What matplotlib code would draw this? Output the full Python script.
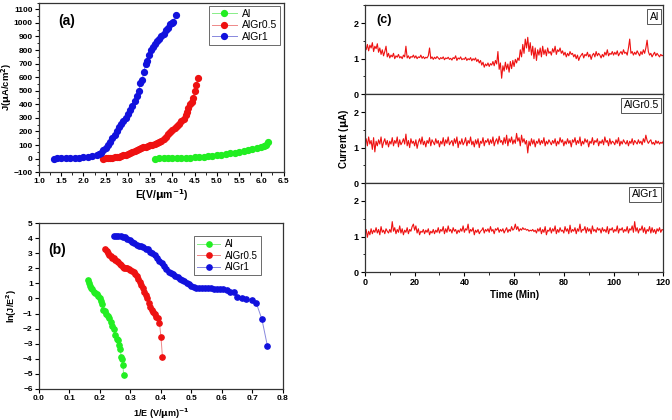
import matplotlib
matplotlib.use("Agg")
import matplotlib.pyplot as plt
import numpy as np
from matplotlib.ticker import MultipleLocator, AutoMinorLocator

plt.rcParams['font.family'] = ['Liberation Sans', 'DejaVu Sans']

# ---------------- Panel (a): J-E ----------------
a_al_E = [3.60, 3.70, 3.80, 3.90, 4.00, 4.10, 4.20, 4.30, 4.40, 4.50, 4.60, 4.70, 4.80, 4.90, 5.00,
          5.10, 5.20, 5.30, 5.40, 5.50, 5.60, 5.70, 5.80, 5.90, 6.00, 6.05, 6.10, 6.15]
a_al_J = [0, 1, 1, 2, 3, 4, 5, 6, 8, 10, 12, 15, 18, 21, 25,
          30, 35, 40, 44, 48, 55, 62, 70, 76, 85, 92, 100, 125]

a_gr05_E = [2.45, 2.50, 2.55, 2.60, 2.65, 2.70, 2.75, 2.80, 2.85, 2.90, 2.95, 3.00, 3.05, 3.10, 3.15,
            3.20, 3.25, 3.30, 3.35, 3.40, 3.45, 3.50, 3.55, 3.60, 3.65, 3.70, 3.75, 3.80, 3.85, 3.90,
            3.95, 4.00, 4.05, 4.10, 4.15, 4.20, 4.25, 4.30, 4.33, 4.36, 4.40, 4.43, 4.46, 4.50, 4.53, 4.57]
a_gr05_J = [0, 2, 3, 5, 7, 9, 12, 15, 19, 24, 29, 35, 42, 50, 56,
            62, 70, 76, 82, 88, 94, 98, 102, 108, 115, 122, 132, 145, 162, 180,
            195, 210, 222, 238, 255, 275, 295, 320, 345, 370, 400, 420, 450, 500, 540, 592]

a_gr1_E = [1.33, 1.40, 1.50, 1.60, 1.70, 1.80, 1.90, 2.00, 2.10, 2.20, 2.30, 2.35, 2.40, 2.45, 2.50,
           2.55, 2.60, 2.65, 2.70, 2.75, 2.80, 2.85, 2.90, 2.95, 3.00, 3.05, 3.10, 3.15, 3.20, 3.25,
           3.28, 3.32, 3.36, 3.40, 3.44, 3.48, 3.52, 3.56, 3.60, 3.65, 3.70, 3.75, 3.80, 3.85, 3.90,
           3.95, 3.98, 4.02, 4.07]
a_gr1_J = [0, 1, 2, 3, 4, 6, 8, 10, 14, 20, 28, 35, 45, 60, 80,
           100, 125, 150, 175, 200, 230, 255, 280, 300, 330, 360, 390, 425, 460, 500,
           560, 580, 640, 700, 720, 760, 800, 820, 845, 865, 880, 900, 920, 945, 965,
           990, 1000, 1010, 1060]

# ---------------- Panel (b): F-N ----------------
b_al_x = [0.160, 0.163, 0.167, 0.170, 0.175, 0.180, 0.185, 0.190, 0.195, 0.200, 0.203, 0.207, 0.210,
          0.215, 0.220, 0.225, 0.230, 0.235, 0.240, 0.245, 0.250, 0.255, 0.260, 0.263, 0.266, 0.270,
          0.273, 0.275, 0.278]
b_al_y = [1.20, 1.00, 0.85, 0.70, 0.60, 0.45, 0.35, 0.30, 0.15, 0.00, -0.20, -0.35, -0.75,
          -0.85, -1.00, -1.15, -1.30, -1.55, -1.80, -2.00, -2.40, -2.70, -2.75, -3.10, -3.35, -3.90,
          -4.00, -4.40, -5.10]

b_gr05_x = [0.218, 0.222, 0.226, 0.230, 0.235, 0.240, 0.245, 0.250, 0.255, 0.260, 0.265, 0.270,
            0.275, 0.280, 0.285, 0.290, 0.295, 0.300, 0.305, 0.310, 0.315, 0.320, 0.325, 0.330,
            0.335, 0.340, 0.345, 0.350, 0.355, 0.360, 0.365, 0.370, 0.375, 0.380, 0.385, 0.390,
            0.395, 0.400, 0.405]
b_gr05_y = [3.30, 3.15, 3.00, 2.90, 2.80, 2.70, 2.65, 2.55, 2.50, 2.40, 2.30, 2.20,
            2.10, 2.05, 2.05, 2.05, 1.95, 1.90, 1.80, 1.75, 1.60, 1.50, 1.30, 1.10,
            0.90, 0.70, 0.45, 0.25, 0.00, -0.30, -0.55, -0.75, -0.90, -1.05, -1.20, -1.30,
            -1.60, -2.55, -3.90]

b_gr1_x = [0.245, 0.252, 0.260, 0.268, 0.275, 0.282, 0.290, 0.297, 0.305, 0.312, 0.320, 0.328,
           0.335, 0.342, 0.350, 0.357, 0.365, 0.372, 0.380, 0.387, 0.395, 0.402, 0.410, 0.417,
           0.425, 0.432, 0.440, 0.447, 0.455, 0.462, 0.470, 0.477, 0.485, 0.492, 0.500, 0.507,
           0.515, 0.525, 0.535, 0.545, 0.555, 0.565, 0.575, 0.585, 0.595, 0.605, 0.615, 0.626,
           0.638, 0.650, 0.666, 0.680, 0.697, 0.713, 0.731, 0.749]
b_gr1_y = [4.15, 4.15, 4.15, 4.12, 4.10, 4.05, 3.95, 3.85, 3.75, 3.65, 3.55, 3.50,
           3.45, 3.40, 3.30, 3.25, 3.10, 3.00, 2.85, 2.70, 2.50, 2.35, 2.15, 1.95,
           1.75, 1.70, 1.60, 1.50, 1.40, 1.30, 1.25, 1.15, 1.05, 0.95, 0.85, 0.75,
           0.72, 0.72, 0.70, 0.70, 0.68, 0.68, 0.65, 0.65, 0.62, 0.60, 0.55, 0.45,
           0.40, 0.10, 0.00, -0.05, -0.10, -0.33, -1.37, -3.13]

# ---------------- Panel (c): stability (values every 0.5 min) ----------------
c_time = [i * 0.5 for i in range(241)]
c_al = [1.32, 1.25, 1.40, 1.22, 1.38, 1.30, 1.45, 1.20, 1.35, 1.28,
        1.42, 1.18, 1.30, 1.12, 1.25, 1.08, 1.20, 1.35, 1.05, 1.15,
        1.02, 1.10, 1.05, 1.15, 1.00, 1.08, 1.04, 1.12, 1.02, 1.06,
        1.00, 1.10, 1.05, 1.35, 1.02, 1.08, 1.00, 1.06, 1.04, 1.10,
        1.02, 1.08, 1.00, 1.05, 1.03, 1.10, 1.01, 1.06, 1.00, 1.04,
        1.02, 1.08, 1.30, 1.00, 1.05, 0.98, 1.04, 1.00, 1.06, 1.02,
        0.98, 1.03, 1.00, 1.05, 0.97, 1.02, 1.00, 1.04, 0.98, 1.01,
        0.96, 1.03, 1.00, 1.08, 0.95, 1.02, 0.99, 1.05, 0.97, 1.00,
        0.98, 1.04, 0.95, 1.00, 0.97, 1.03, 0.94, 1.00, 0.96, 1.02,
        0.92, 0.98, 0.88, 0.95, 0.82, 0.90, 0.76, 0.85, 0.80, 0.88,
        0.78, 0.86, 0.82, 0.92, 0.80, 0.95, 0.85, 1.20, 0.70, 0.88,
        0.45, 0.80, 0.65, 0.90, 0.70, 0.85, 0.62, 0.92, 0.72, 0.95,
        0.78, 0.98, 0.88, 1.02, 0.95, 1.25, 1.05, 1.40, 1.15, 1.55,
        1.30, 1.60, 1.20, 1.45, 1.10, 1.35, 1.00, 1.30, 0.95, 1.25,
        1.10, 1.30, 1.05, 1.35, 1.12, 1.25, 1.08, 1.30, 1.15, 1.20,
        1.10, 1.28, 1.18, 1.35, 1.12, 1.25, 1.20, 1.30, 1.15, 1.22,
        1.10, 1.18, 1.05, 1.15, 1.08, 1.20, 1.12, 1.15, 1.05, 1.12,
        1.00, 1.10, 0.95, 1.05, 1.10, 1.15, 1.02, 1.12, 1.08, 1.18,
        1.05, 1.12, 0.98, 1.10, 1.15, 1.05, 1.20, 1.08, 1.15, 1.10,
        1.02, 1.12, 1.05, 1.18, 1.10, 1.25, 1.08, 1.15, 1.12, 1.20,
        1.10, 1.18, 1.12, 1.22, 1.08, 1.15, 1.20, 1.12, 1.25, 1.15,
        1.18, 1.10, 1.30, 1.55, 1.15, 1.20, 1.10, 1.18, 1.12, 1.22,
        1.15, 1.08, 1.20, 1.12, 1.25, 1.15, 1.30, 1.52, 1.20, 1.10,
        1.15, 1.05, 1.12, 1.18, 1.08, 1.15, 1.10, 1.05, 1.12, 1.08, 1.10]
c_gr05 = [1.15, 1.25, 1.05, 1.30, 1.10, 1.20, 0.95, 1.28, 0.88, 1.18,
          1.05, 1.22, 1.10, 1.30, 1.00, 1.15, 1.25, 1.08, 1.20, 1.02,
          1.18, 1.10, 1.28, 1.05, 1.20, 1.12, 1.30, 1.02, 1.22, 1.08,
          1.15, 1.25, 1.10, 1.38, 1.05, 1.20, 1.00, 1.25, 1.12, 1.18,
          1.05, 1.22, 0.98, 1.15, 1.25, 1.10, 1.30, 1.08, 1.18, 1.02,
          1.20, 1.12, 1.28, 1.05, 1.22, 1.15, 1.08, 1.25, 1.12, 1.20,
          1.02, 1.18, 1.10, 1.28, 1.05, 1.22, 1.12, 1.30, 1.08, 1.15,
          1.20, 1.05, 1.25, 1.12, 1.30, 1.00, 1.18, 1.10, 1.25, 1.08,
          1.15, 1.28, 1.05, 1.20, 1.12, 1.30, 1.08, 1.18, 1.02, 1.22,
          1.10, 1.25, 1.00, 1.18, 1.12, 1.28, 1.05, 1.20, 1.15, 1.25,
          1.08, 1.22, 1.12, 1.30, 1.05, 1.18, 1.25, 1.10, 1.32, 1.15,
          1.20, 1.08, 1.28, 1.12, 1.35, 1.05, 1.25, 1.15, 1.30, 1.10,
          1.22, 1.12, 1.40, 1.18, 1.28, 1.05, 1.35, 1.15, 1.25, 1.10,
          1.20, 0.85, 1.18, 1.05, 1.25, 1.10, 1.22, 1.02, 1.18, 1.12,
          1.25, 1.08, 1.20, 1.12, 1.28, 1.05, 1.18, 1.10, 1.22, 1.15,
          1.08, 1.20, 1.12, 1.25, 1.05, 1.18, 1.10, 1.28, 1.15, 1.22,
          1.05, 1.18, 1.10, 1.25, 1.12, 1.20, 1.02, 1.22, 1.15, 1.28,
          1.08, 1.20, 1.12, 1.30, 1.05, 1.18, 1.10, 1.25, 1.15, 1.22,
          1.02, 1.18, 1.12, 1.28, 1.08, 1.20, 1.15, 1.25, 1.05, 1.18,
          1.12, 1.22, 1.08, 1.30, 1.15, 1.20, 1.05, 1.25, 1.10, 1.18,
          1.15, 1.08, 1.22, 1.12, 1.28, 1.05, 1.18, 1.10, 1.22, 1.15,
          1.10, 1.20, 1.05, 1.18, 1.12, 1.25, 1.08, 1.20, 1.15, 1.10,
          1.22, 1.12, 1.18, 1.08, 1.25, 1.15, 1.35, 1.20, 1.12, 1.18,
          1.22, 1.10, 1.15, 1.08, 1.20, 1.12, 1.18, 1.10, 1.15, 1.12, 1.18]
c_gr1 = [1.10, 1.20, 0.98, 1.15, 1.05, 1.22, 1.08, 1.18, 1.12, 1.25,
         1.10, 1.20, 1.05, 1.28, 1.12, 1.18, 1.08, 1.22, 1.15, 1.10,
         1.20, 1.12, 1.42, 1.15, 1.25, 1.08, 1.20, 1.12, 1.30, 1.10,
         1.22, 1.05, 1.18, 1.12, 1.25, 1.08, 1.20, 1.15, 1.28, 1.35,
         1.18, 1.30, 1.10, 1.22, 1.05, 1.15, 1.12, 1.20, 1.08, 1.18,
         1.12, 1.22, 1.05, 1.15, 1.10, 1.20, 1.08, 1.18, 1.12, 1.25,
         1.10, 1.20, 1.15, 1.28, 1.08, 1.22, 1.12, 1.30, 1.15, 1.20,
         1.10, 1.25, 1.15, 1.20, 1.08, 1.18, 1.12, 1.22, 1.15, 1.30,
         1.12, 1.22, 1.18, 1.35, 1.10, 1.20, 1.15, 1.25, 1.05, 1.18,
         1.12, 1.20, 1.08, 1.15, 1.18, 1.25, 1.10, 1.20, 1.15, 1.22,
         1.12, 1.28, 1.15, 1.20, 1.08, 1.22, 1.18, 1.25, 1.12, 1.20,
         1.15, 1.22, 1.10, 1.18, 1.25, 1.12, 1.20, 1.15, 1.28, 1.18,
         1.22, 1.35, 1.20, 1.28, 1.15, 1.22, 1.18, 1.25, 1.20, 1.22,
         1.18, 1.20, 1.15, 1.18, 1.16, 1.20, 1.14, 1.18, 1.10, 1.22,
         1.15, 1.25, 1.08, 1.20, 1.12, 1.28, 1.05, 1.18, 1.15, 1.25,
         1.10, 1.22, 1.15, 1.30, 1.08, 1.20, 1.12, 1.25, 1.15, 1.18,
         1.10, 1.28, 1.15, 1.22, 1.08, 1.32, 1.12, 1.20, 1.15, 1.25,
         1.08, 1.22, 1.15, 1.35, 1.12, 1.20, 1.18, 1.28, 1.10, 1.25,
         1.15, 1.22, 1.08, 1.30, 1.15, 1.20, 1.12, 1.25, 1.18, 1.22,
         1.10, 1.25, 1.15, 1.20, 1.12, 1.28, 1.08, 1.22, 1.18, 1.25,
         1.12, 1.20, 1.15, 1.30, 1.10, 1.22, 1.18, 1.25, 1.12, 1.20,
         1.15, 1.28, 1.10, 1.22, 1.18, 1.30, 1.12, 1.42, 1.15, 1.25,
         1.10, 1.22, 1.18, 1.30, 1.12, 1.25, 1.08, 1.20, 1.15, 1.28,
         1.10, 1.25, 1.12, 1.20, 1.08, 1.22, 1.15, 1.25, 1.12, 1.20, 1.18]

labels = ["Al", "AlGr0.5", "AlGr1"]
colors = ["#22ee22", "#ee1111", "#1111dd"]
line_colors = ["#88ee88", "#ee8888", "#8888dd"]

fig = plt.figure(figsize=(6.72, 4.2), dpi=100)

tick_kw = dict(labelsize=6, direction='out', length=3, width=0.8, pad=1.5)

def style_axes(ax):
    for s in ax.spines.values():
        s.set_linewidth(0.9)
        s.set_color('#333333')
    ax.tick_params(which='major', **tick_kw)
    ax.tick_params(which='minor', direction='out', length=1.8, width=0.6)
    for lbl in ax.get_xticklabels() + ax.get_yticklabels():
        lbl.set_fontweight('bold')

# Panel (a)
ax_a = fig.add_axes([0.058, 0.590, 0.364, 0.404])
for E, J, c, lc, lab in [(a_al_E, a_al_J, colors[0], line_colors[0], labels[0]),
                         (a_gr05_E, a_gr05_J, colors[1], line_colors[1], labels[1]),
                         (a_gr1_E, a_gr1_J, colors[2], line_colors[2], labels[2])]:
    ax_a.plot(E, J, '-', color=lc, lw=0.7, marker='o', ms=4.2, mfc=c, mec=c, label=lab)
ax_a.set_xlim(1.0, 6.5)
ax_a.set_ylim(-100, 1150)
ax_a.set_xticks(np.arange(1.0, 6.51, 0.5))
ax_a.set_xticklabels([f"{v:.1f}" for v in np.arange(1.0, 6.51, 0.5)])
ax_a.set_yticks(np.arange(-100, 1101, 100))
ax_a.xaxis.set_minor_locator(AutoMinorLocator(2))
ax_a.yaxis.set_minor_locator(AutoMinorLocator(2))
style_axes(ax_a)
ax_a.set_xlabel(r"E(V/$\mathbf{\mu}$m$^{\mathbf{-1}}$)", fontsize=7.5, fontweight='bold', labelpad=1)
ax_a.set_ylabel(r"J($\mathbf{\mu}$A/cm$^{\mathbf{2}}$)", fontsize=6.8, fontweight='bold')
ax_a.yaxis.set_label_coords(-0.103, 0.5)
ax_a.text(0.08, 0.93, "(a)", transform=ax_a.transAxes, fontsize=10, fontweight='bold', va='top')
leg = ax_a.legend(loc='upper right', fontsize=7.5, frameon=True, fancybox=False, edgecolor='#444444',
                  handlelength=2.4, borderpad=0.3, labelspacing=0.15, handletextpad=0.5,
                  borderaxespad=0.3, markerscale=1.0)
leg.get_frame().set_linewidth(0.7)

# Panel (b)
ax_b = fig.add_axes([0.058, 0.074, 0.363, 0.395])
for X, Y, c, lc, lab in [(b_al_x, b_al_y, colors[0], line_colors[0], labels[0]),
                         (b_gr05_x, b_gr05_y, colors[1], line_colors[1], labels[1]),
                         (b_gr1_x, b_gr1_y, colors[2], line_colors[2], labels[2])]:
    ax_b.plot(X, Y, '-', color=lc, lw=0.7, marker='o', ms=3.8, mfc=c, mec=c, label=lab)
ax_b.set_xlim(0.0, 0.8)
ax_b.set_ylim(-6, 5)
ax_b.set_xticks(np.arange(0.0, 0.81, 0.1))
ax_b.set_xticklabels([f"{v:.1f}" for v in np.arange(0.0, 0.81, 0.1)])
ax_b.set_yticks(np.arange(-6, 6, 1))
style_axes(ax_b)
ax_b.set_xlabel(r"1/E (V/$\mathbf{\mu}$m)$^{\mathbf{-1}}$", fontsize=6.5, fontweight='bold', labelpad=3)
ax_b.set_ylabel(r"ln(J/E$^{\mathbf{2}}$)", fontsize=6.5, fontweight='bold', labelpad=3)
ax_b.text(0.04, 0.88, "(b)", transform=ax_b.transAxes, fontsize=10, fontweight='bold', va='top')
leg = ax_b.legend(loc='upper right', fontsize=7, frameon=True, fancybox=False, edgecolor='#444444',
                  handlelength=2.4, borderpad=0.3, labelspacing=0.15, handletextpad=0.5,
                  bbox_to_anchor=(0.93, 0.95))
leg.get_frame().set_linewidth(0.7)

# Panel (c)
c_left, c_width = 0.543, 0.444
c_bottom, c_h = 0.352, 0.2118
series_c = [c_al, c_gr05, c_gr1]
axes_c = []
for i in range(3):
    ax = fig.add_axes([c_left, c_bottom + (2 - i) * c_h, c_width, c_h])
    ax.plot(c_time, series_c[i], color='#ee1111', lw=0.8)
    ax.set_xlim(0, 120)
    ax.set_ylim(0, 2.5)
    ax.set_yticks([0, 1, 2])
    ax.yaxis.set_minor_locator(MultipleLocator(0.5))
    ax.set_xticks(np.arange(0, 121, 20))
    ax.xaxis.set_minor_locator(MultipleLocator(10))
    style_axes(ax)
    ax.tick_params(axis='both', which='major', labelsize=6.5)
    if i < 2:
        ax.tick_params(axis='x', labelbottom=False)
    ax.text(0.985, 0.93, labels[i], transform=ax.transAxes, fontsize=7.5, ha='right', va='top',
            bbox=dict(boxstyle='square,pad=0.25', fc='white', ec='#555555', lw=0.7))
    for lbl in ax.get_xticklabels() + ax.get_yticklabels():
        lbl.set_fontweight('bold')
    axes_c.append(ax)
axes_c[0].text(0.04, 0.9, "(c)", transform=axes_c[0].transAxes, fontsize=9, fontweight='bold', va='top')
axes_c[2].set_xlabel("Time (Min)", fontsize=7, fontweight='bold', labelpad=2)
fig.text(0.512, c_bottom + 1.5 * c_h, r"Current ($\mathbf{\mu}$A)", rotation=90, fontsize=7,
         fontweight='bold', ha='center', va='center')

fig.savefig("out.png", dpi=100)
